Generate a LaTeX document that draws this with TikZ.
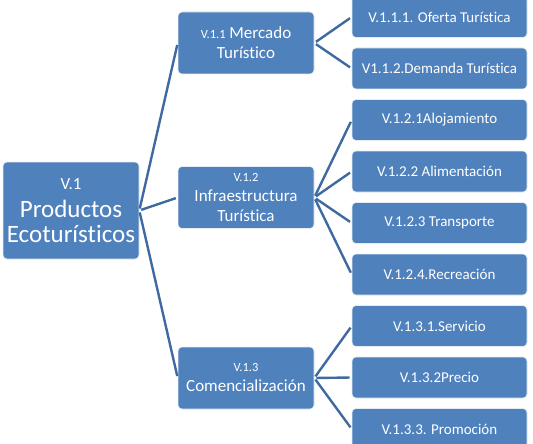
\documentclass[tikz,border=0pt]{standalone}
\usepackage{fontspec}
\setmainfont[Ligatures=NoCommon]{Carlito}
\definecolor{boxblue}{HTML}{4F81BD}
\definecolor{lineblue}{HTML}{3F6AA0}
\begin{document}
\begin{tikzpicture}[x=1pt,y=-1pt,
  box/.style={rectangle, rounded corners=4pt, fill=boxblue, draw=white!85!boxblue, line width=0.6pt,
    text=white, align=center, inner sep=1pt},
  rootbox/.style={box, minimum width=136pt, minimum height=97pt, font=\fontsize{25}{25}\selectfont},
  midbox/.style={box, minimum width=136pt, minimum height=62pt, font=\fontsize{17}{20}\selectfont},
  leafbox/.style={box, minimum width=175pt, minimum height=41pt, font=\fontsize{15}{17}\selectfont},
  link/.style={draw=lineblue, line width=2.4pt, shorten >=2pt, shorten <=2pt}]
\useasboundingbox (0,0) rectangle (533,444);
\node[rootbox] (root) at (71,210.5) {{\fontsize{17}{17}\selectfont V.1}\\[3pt]Productos\\Ecotur\'isticos};
\node[midbox] (m1) at (246,43) {{\fontsize{12.5}{14}\selectfont V.1.1} Mercado\\Tur\'istico};
\node[midbox] (m2) at (246,197.5) {{\fontsize{12.5}{14}\selectfont V.1.2}\\Infraestructura\\Tur\'istica};
\node[midbox] (m3) at (246,378) {{\fontsize{12.5}{14}\selectfont V.1.3}\\Comencializaci\'on};
\node[leafbox] (l1) at (439.5,17) {V.1.1.1. Oferta Tur\'istica};
\node[leafbox] (l2) at (439.5,68.5) {V1.1.2.Demanda Tur\'istica};
\node[leafbox] (l3) at (439.5,120) {V.1.2.1Alojamiento};
\node[leafbox] (l4) at (439.5,171.5) {V.1.2.2 Alimentaci\'on};
\node[leafbox] (l5) at (439.5,223) {V.1.2.3 Transporte};
\node[leafbox] (l6) at (439.5,274.5) {V.1.2.4.Recreaci\'on};
\node[leafbox] (l7) at (439.5,326) {V.1.3.1.Servicio};
\node[leafbox] (l8) at (439.5,377.5) {V.1.3.2Precio};
\node[leafbox] (l9) at (439.5,429) {V.1.3.3. Promoci\'on};
\foreach \m in {m1,m2,m3} \draw[link] (root.east) -- (\m.west);
\foreach \l in {l1,l2} \draw[link] (m1.east) -- (\l.west);
\foreach \l in {l3,l4,l5,l6} \draw[link] (m2.east) -- (\l.west);
\foreach \l in {l7,l8,l9} \draw[link] (m3.east) -- (\l.west);
\end{tikzpicture}
\end{document}
